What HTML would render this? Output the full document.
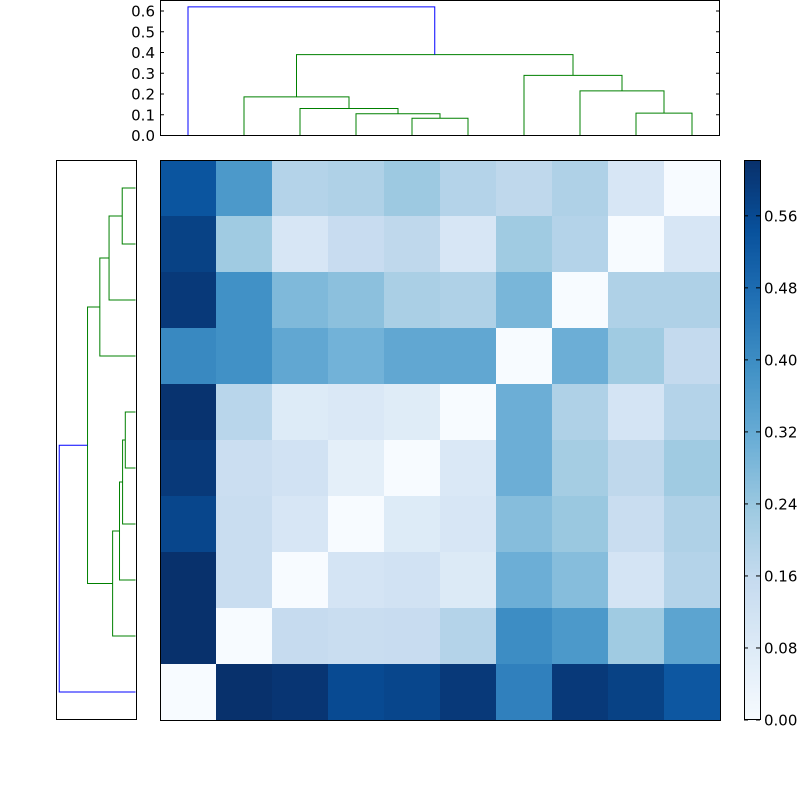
<!DOCTYPE html>
<html><head><meta charset="utf-8"><style>
body{margin:0;background:#fff;}
svg text{font-family:"DejaVu Sans","Liberation Sans",sans-serif;font-size:15px;fill:#000;}
</style></head><body>
<svg id="fig" width="800" height="800" xmlns="http://www.w3.org/2000/svg">
<rect width="800" height="800" fill="#fff"/>
<g id="topdendro"></g>
<g id="leftdendro"></g>
<g id="heat"></g>
<g id="cbar"></g>
</svg>
<script>
const matrix = [
[0.535,0.37,0.19,0.20,0.235,0.19,0.17,0.20,0.10,0.0],
[0.58,0.23,0.10,0.15,0.17,0.10,0.23,0.19,0.0,0.10],
[0.60,0.39,0.28,0.26,0.21,0.20,0.29,0.0,0.20,0.20],
[0.41,0.39,0.33,0.30,0.33,0.33,0.0,0.31,0.23,0.16],
[0.615,0.18,0.08,0.09,0.075,0.0,0.31,0.20,0.11,0.19],
[0.60,0.14,0.12,0.06,0.0,0.09,0.31,0.22,0.17,0.23],
[0.57,0.145,0.10,0.0,0.08,0.10,0.27,0.24,0.145,0.20],
[0.62,0.145,0.0,0.11,0.12,0.085,0.31,0.27,0.11,0.19],
[0.62,0.0,0.155,0.145,0.15,0.19,0.40,0.37,0.23,0.34],
[0.0,0.62,0.61,0.56,0.57,0.60,0.43,0.60,0.58,0.53]
];
const linkLeft = [4,3,2,1,8,7,6,13,0];
const linkRight = [5,10,11,12,9,14,15,16,17];
const linkHeight = [0.083,0.105,0.13,0.186,0.108,0.215,0.29,0.39,0.62];
const dendroTicks = [0,0.1,0.2,0.3,0.4,0.5,0.6];
const cbarTicks = [0,0.08,0.16,0.24,0.32,0.40,0.48,0.56];
const vmax = 0.622;

const NS="http://www.w3.org/2000/svg";
function mk(parent,tag,attrs){const e=document.createElementNS(NS,tag);for(const k in attrs)e.setAttribute(k,attrs[k]);parent.appendChild(e);return e;}
const stops=["#f7fbff","#deebf7","#c6dbef","#9ecae1","#6baed6","#4292c6","#2171b5","#08519c","#08306b"];
function hx(c){return [1,3,5].map(i=>parseInt(c.substr(i,2),16));}
function blues(t){t=Math.max(0,Math.min(1,t));const p=t*8,i=Math.min(7,Math.floor(p)),f=p-i;const a=hx(stops[i]),b=hx(stops[i+1]);return "rgb("+a.map((v,k)=>Math.round(v+(b[k]-v)*f)).join(",")+")";}

// heatmap
const heat=document.getElementById('heat');
const H0x=160,H0y=160,cell=56,n=matrix.length;
for(let r=0;r<n;r++)for(let c=0;c<n;c++){
 const e=mk(heat,'rect',{x:H0x+c*cell,y:H0y+r*cell,width:cell+0.5,height:cell+0.5,fill:blues(matrix[r][c]/vmax)});
 
 
}
mk(heat,'rect',{x:160.5,y:160.5,width:560,height:560,fill:'none',stroke:'#000','stroke-width':1});

// dendrograms
function leafPos(k){return 188+56*k;}
function buildPos(){const p=[];for(let i=0;i<10;i++)p.push(leafPos(i));const h=new Array(10).fill(0);
 for(let j=0;j<linkLeft.length;j++){p.push((p[linkLeft[j]]+p[linkRight[j]])/2);h.push(linkHeight[j]);}return [p,h];}
const built=buildPos();
const pos=built[0],hts=built[1];
const topY=d=>135.5-d*207.5;
const leftX=d=>135.5-d*123;
const topG=document.getElementById('topdendro'),leftG=document.getElementById('leftdendro');
for(let j=0;j<linkLeft.length;j++){
 const a=linkLeft[j],b=linkRight[j],h=linkHeight[j];
 const col=(j===linkLeft.length-1)?'#0000ff':'#008000';
 const xa=pos[a],xb=pos[b];
 const p=mk(topG,'polyline',{points:`${xa},${topY(hts[a])} ${xa},${topY(h)} ${xb},${topY(h)} ${xb},${topY(hts[b])}`,fill:'none',stroke:col,'stroke-width':1});
 
 
 const ya=880-pos[a],yb=880-pos[b];
 const q=mk(leftG,'polyline',{points:`${leftX(hts[a])},${ya} ${leftX(h)},${ya} ${leftX(h)},${yb} ${leftX(hts[b])},${yb}`,fill:'none',stroke:col,'stroke-width':1});
 
 
}
mk(topG,'rect',{x:160.5,y:0.5,width:559,height:135,fill:'none',stroke:'#000'});
mk(leftG,'rect',{x:56.5,y:160.5,width:80,height:559,fill:'none',stroke:'#000'});
dendroTicks.forEach(v=>{
 const y=topY(v);
 mk(topG,'line',{x1:160,x2:164,y1:y,y2:y,stroke:'#000'});
 mk(topG,'line',{x1:716,x2:720,y1:y,y2:y,stroke:'#000'});
 const t=mk(topG,'text',{x:155,y:y+5.5,'text-anchor':'end'});t.textContent=v.toFixed(1);
 
 
});

// colorbar
const cb=document.getElementById('cbar');
const cbx=744,cby=160,cbh=560;
for(let i=0;i<140;i++){mk(cb,'rect',{x:cbx,y:cby+cbh-(i+1)*4,width:16,height:4.5,fill:blues((i+0.5)/140)});}
mk(cb,'rect',{x:744.5,y:160.5,width:16,height:559,fill:'none',stroke:'#000'});
cbarTicks.forEach(v=>{
 const y=720-v/vmax*560;
 mk(cb,'line',{x1:744,x2:748,y1:y,y2:y,stroke:'#000'});
 mk(cb,'line',{x1:756,x2:760,y1:y,y2:y,stroke:'#000'});
 const t=mk(cb,'text',{x:764,y:y+5.5});t.textContent=v.toFixed(2);
 
 
});
</script>
</body></html>
